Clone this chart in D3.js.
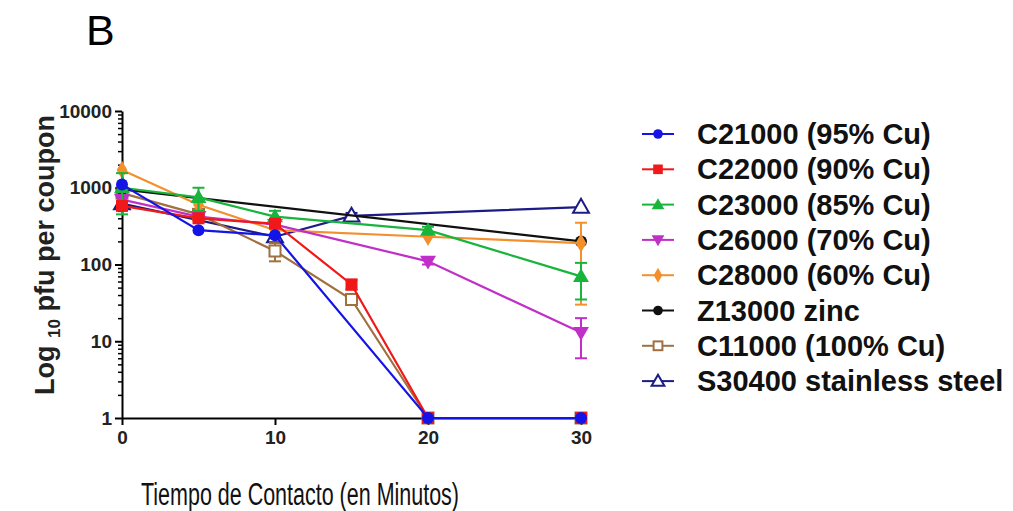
<!DOCTYPE html>
<html>
<head>
<meta charset="utf-8">
<script src="https://cdn.jsdelivr.net/npm/d3@7"></script>
<style>
  body { margin: 0; background: #fff; }
  text { font-family: Arial, "Liberation Sans", sans-serif; }
</style>
</head>
<body>
<div class="svg_area"></div>
<script>
// time points (minutes)
var times = [0, 5, 10, 15, 20, 30];

// series names (legend order)
var names = ["C21000 (95% Cu)", "C22000 (90% Cu)", "C23000 (85% Cu)", "C26000 (70% Cu)",
  "C28000 (60% Cu)", "Z13000 zinc", "C11000 (100% Cu)", "S30400 stainless steel"];

// pfu per coupon, null = no point at that time
var c21000 = [1100, 280, 240, null, 1, 1];
var c22000 = [580, 400, 340, 55, 1, 1];
var c23000 = [1000, 750, 420, null, 280, 70];
var c26000 = [700, 420, 330, null, 110, 13];
var c28000 = [1700, 600, 280, null, 230, 190];
var z13000 = [950, null, null, null, null, 200];
var c11000 = [850, 450, 150, 35, 1, 1];
var s30400 = [620, null, 230, 430, null, 560];

// error bars (+/-), 0 = none drawn
var c21000Err = [0, 0, 0, 0, 0, 0];
var c22000Err = [0, 0, 0, 8, 0, 0];
var c23000Err = [550, 250, 80, 0, 30, 35];
var c26000Err = [0, 0, 0, 0, 10, 7];
var c28000Err = [0, 0, 0, 0, 0, 160];
var z13000Err = [0, 0, 0, 0, 0, 0];
var c11000Err = [0, 0, 40, 5, 0, 0];
var s30400Err = [0, 0, 0, 40, 0, 0];

var values = [c21000, c22000, c23000, c26000, c28000, z13000, c11000, s30400];
var errs = [c21000Err, c22000Err, c23000Err, c26000Err, c28000Err, z13000Err, c11000Err, s30400Err];

var colors = ["#1414e6", "#f01818", "#18b43c", "#c030c8", "#f4902c", "#101010", "#a07040", "#1c1c84"];
var shapes = ["circle", "square", "triangle", "triangleDown", "diamond", "circle", "openSquare", "openTriangle"];

var svgWidth = 1013;
var svgHeight = 511;

var svg = d3.select(".svg_area")
  .append("svg")
  .attr("width", svgWidth)
  .attr("height", svgHeight);

// scales
var xScale = d3.scaleLinear().domain([0, 30]).range([122, 581]);
var yScale = d3.scaleLog().domain([1, 10000]).range([418, 111]);

// panel letter
svg.append("text")
  .attr("x", 86).attr("y", 45)
  .attr("font-size", 43)
  .text("B");

// y axis: major ticks
var majors = [1, 10, 100, 1000, 10000];
var minors = [];
for (var dec = 1; dec < 10000; dec *= 10) {
  for (var m = 2; m < 10; m++) minors.push(dec * m);
}

var yAxisG = svg.append("g")
  .attr("transform", "translate(122,0)")
  .call(d3.axisLeft(yScale).tickValues(majors).tickFormat(d3.format("d")).tickSize(7).tickSizeOuter(0).tickPadding(3));
yAxisG.select(".domain").attr("stroke-width", 2);
yAxisG.selectAll(".tick line").attr("stroke-width", 2);
yAxisG.selectAll(".tick text")
  .attr("font-size", 19).attr("font-weight", "bold")
  .attr("font-family", "Arial, 'Liberation Sans', sans-serif").attr("fill", "#222");

var yMinorG = svg.append("g")
  .attr("transform", "translate(122,0)")
  .call(d3.axisLeft(yScale).tickValues(minors).tickFormat("").tickSize(4).tickSizeOuter(0));
yMinorG.select(".domain").remove();
yMinorG.selectAll(".tick line").attr("stroke-width", 1.5);

// x axis
var xAxisG = svg.append("g")
  .attr("transform", "translate(0,418)")
  .call(d3.axisBottom(xScale).tickValues([0, 10, 20, 30]).tickSize(7).tickSizeOuter(0).tickPadding(6));
xAxisG.select(".domain").attr("stroke-width", 2);
xAxisG.selectAll(".tick line").attr("stroke-width", 2);
xAxisG.selectAll(".tick text")
  .attr("font-size", 19).attr("font-weight", "bold")
  .attr("font-family", "Arial, 'Liberation Sans', sans-serif").attr("fill", "#222");

// y axis title with subscript
var yTitle = svg.append("text")
  .attr("transform", "translate(54,255) rotate(-90)")
  .attr("text-anchor", "middle")
  .attr("font-size", 27).attr("font-weight", "bold").attr("fill", "#222");
yTitle.append("tspan").text("Log ");
yTitle.append("tspan").attr("font-size", 17).attr("dy", 6).text("10");
yTitle.append("tspan").attr("dy", -6).text(" pfu per coupon");

// x axis title
svg.append("text")
  .attr("x", 141).attr("y", 505)
  .attr("font-family", "Lato, 'Open Sans', sans-serif")
  .attr("font-size", 31)
  .attr("textLength", 318).attr("lengthAdjust", "spacingAndGlyphs")
  .attr("fill", "#111")
  .text("Tiempo de Contacto (en Minutos)");

// marker helper
function drawMarker(g, shape, color, cx, cy, scale) {
  var s = scale || 1;
  if (shape === "circle") {
    g.append("circle").attr("cx", cx).attr("cy", cy).attr("r", 6 * s).attr("fill", color);
  } else if (shape === "square" || shape === "openSquare") {
    var open = shape === "openSquare";
    var h = open ? 5.5 * s : 6 * s;
    g.append("rect").attr("x", cx - h).attr("y", cy - h).attr("width", 2 * h).attr("height", 2 * h)
      .attr("fill", open ? "#fff" : color).attr("stroke", color).attr("stroke-width", open ? 2 : 0);
  } else if (shape === "triangle" || shape === "openTriangle") {
    var open2 = shape === "openTriangle";
    g.append("path")
      .attr("d", d3.symbol().type(d3.symbolTriangle).size(110 * s * s)())
      .attr("transform", "translate(" + cx + "," + (cy + 1) + ")")
      .attr("fill", open2 ? "#fff" : color).attr("stroke", color).attr("stroke-width", open2 ? 2 : 0);
  } else if (shape === "triangleDown") {
    g.append("path")
      .attr("d", d3.symbol().type(d3.symbolTriangle).size(110 * s * s)())
      .attr("transform", "translate(" + cx + "," + (cy - 1) + ") rotate(180)")
      .attr("fill", color);
  } else if (shape === "diamond") {
    g.append("path")
      .attr("d", d3.symbol().type(d3.symbolDiamond).size(100 * s * s)())
      .attr("transform", "translate(" + cx + "," + cy + ")")
      .attr("fill", color);
  }
}

var line = d3.line()
  .defined(d => d.v != null)
  .x(d => xScale(d.t))
  .y(d => yScale(d.v));

var plot = svg.append("g");

// draw last series first so the first one sits on top
for (var i = values.length - 1; i >= 0; i--) {
  var pts = times.map((t, j) => ({ t: t, v: values[i][j], e: errs[i][j] }));
  var valid = pts.filter(d => d.v != null);
  var g = plot.append("g");

  g.append("path")
    .datum(valid)
    .attr("d", line)
    .attr("fill", "none")
    .attr("stroke", colors[i])
    .attr("stroke-width", 2.2);

  // error bars
  valid.filter(d => d.e > 0).forEach(function(d) {
    var x = xScale(d.t);
    var y1 = yScale(Math.max(d.v - d.e, 1));
    var y2 = yScale(d.v + d.e);
    g.append("line").attr("x1", x).attr("x2", x).attr("y1", y1).attr("y2", y2)
      .attr("stroke", colors[i]).attr("stroke-width", 2);
    [y1, y2].forEach(function(yy) {
      g.append("line").attr("x1", x - 6).attr("x2", x + 6).attr("y1", yy).attr("y2", yy)
        .attr("stroke", colors[i]).attr("stroke-width", 2);
    });
  });

  valid.forEach(function(d) {
    drawMarker(g, shapes[i], colors[i], xScale(d.t), yScale(d.v));
  });
}

// legend
var legend = svg.append("g");
names.forEach(function(name, i) {
  var yy = 134 + i * 35.3;
  legend.append("line")
    .attr("x1", 642).attr("x2", 674).attr("y1", yy).attr("y2", yy)
    .attr("stroke", colors[i]).attr("stroke-width", 2);
  drawMarker(legend, shapes[i], colors[i], 658, yy, 0.8);
  legend.append("text")
    .attr("x", 697).attr("y", yy + 10)
    .attr("font-size", 29).attr("font-weight", "bold").attr("fill", "#111")
    .text(name);
});
</script>
</body>
</html>
